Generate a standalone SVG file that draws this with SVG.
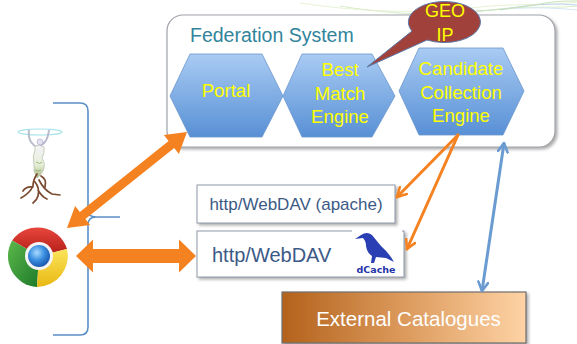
<svg xmlns="http://www.w3.org/2000/svg" width="577" height="344" viewBox="0 0 577 344">
  <defs>
    <linearGradient id="hexFill" x1="0" y1="0" x2="0" y2="1">
      <stop offset="0" stop-color="#a9cbf3"/>
      <stop offset="1" stop-color="#5890d5"/>
    </linearGradient>
    <linearGradient id="extFill" x1="0" y1="0" x2="1" y2="0">
      <stop offset="0" stop-color="#b3621c"/>
      <stop offset="0.5" stop-color="#dc9a5c"/>
      <stop offset="1" stop-color="#fed3a5"/>
    </linearGradient>
    <radialGradient id="blueEye" cx="0.4" cy="0.35" r="0.7">
      <stop offset="0" stop-color="#a8dcff"/>
      <stop offset="0.5" stop-color="#3a8ee0"/>
      <stop offset="1" stop-color="#1552a8"/>
    </radialGradient>
    <linearGradient id="redPart" x1="0" y1="0" x2="0" y2="1">
      <stop offset="0" stop-color="#e8463c"/>
      <stop offset="1" stop-color="#b01c16"/>
    </linearGradient>
    <linearGradient id="greenPart" x1="0" y1="0" x2="1" y2="1">
      <stop offset="0" stop-color="#5cb84a"/>
      <stop offset="1" stop-color="#1d7a2a"/>
    </linearGradient>
    <linearGradient id="yellowPart" x1="0" y1="0" x2="0" y2="1">
      <stop offset="0" stop-color="#fbe45a"/>
      <stop offset="1" stop-color="#e9b812"/>
    </linearGradient>
    <linearGradient id="skin" x1="0" y1="0" x2="0" y2="1">
      <stop offset="0" stop-color="#f4f2f8"/>
      <stop offset="0.6" stop-color="#e6efd8"/>
      <stop offset="1" stop-color="#a8b884"/>
    </linearGradient>
    <filter id="shadow" x="-10%" y="-10%" width="130%" height="140%">
      <feDropShadow dx="2" dy="2" stdDeviation="1.4" flood-color="#777" flood-opacity="0.6"/>
    </filter>
    <marker id="vOrange" viewBox="0 0 12 12" refX="10" refY="6" markerWidth="12" markerHeight="12" markerUnits="userSpaceOnUse" orient="auto">
      <polyline points="1,1 10,6 1,11" fill="none" stroke="#f58220" stroke-width="2.6" stroke-linecap="round" stroke-linejoin="round"/>
    </marker>
    <marker id="vBlue" viewBox="0 0 12 12" refX="10" refY="6" markerWidth="12" markerHeight="12" markerUnits="userSpaceOnUse" orient="auto-start-reverse">
      <polyline points="1,1 10,6 1,11" fill="none" stroke="#6a9bd1" stroke-width="2.6" stroke-linecap="round" stroke-linejoin="round"/>
    </marker>
    <style>
      .hex { fill: url(#hexFill); stroke: #6a95cc; stroke-width: 0.8; }
      .hexText { font-family: "Liberation Sans", Arial, sans-serif; font-size: 18.6px; fill: #ffff00; text-anchor: middle; }
      .box { fill: #ffffff; stroke: #8f9aa8; stroke-width: 1; }
      .boxText { font-family: "Liberation Sans", Arial, sans-serif; fill: #3b5a86; }
      .thick { fill: #f58220; }
      .thin { fill: none; stroke: #f58220; stroke-width: 3; stroke-linecap: round; }
      .swirl { fill: none; stroke-width: 1; }
    </style>
  </defs>

  <!-- faint decorative swirl along the top edge -->
  <g id="swirl" opacity="0.6">
    <path class="swirl" stroke="#d6e9b8" d="M300,3 C360,12 420,14 470,8 C510,3 545,6 577,2"/>
    <path class="swirl" stroke="#c2e0a6" d="M340,6 C400,16 450,16 490,10 C525,5 550,9 577,6"/>
    <path class="swirl" stroke="#b9d6ec" d="M470,12 C510,8 540,6 577,10"/>
    <path class="swirl" stroke="#8fb7e0" d="M500,10 C530,4 555,3 577,5"/>
    <path class="swirl" stroke="#a6cf86" d="M430,10 C470,13 505,10 540,4 C555,1 566,1 577,1"/>
  </g>

  <!-- Federation System container -->
  <g id="federation">
    <rect x="167" y="15" width="388" height="132" rx="16" ry="16" fill="#ffffff" stroke="#a0a4aa" stroke-width="1.2" filter="url(#shadow)"/>
    <text x="190" y="42" font-family="Liberation Sans, Arial, sans-serif" font-size="19.5" fill="#31849b">Federation System</text>
  </g>

  <g id="portal">
    <polygon class="hex" points="170,96 190,54 262,54 283,96 262,137 190,137"/>
    <text class="hexText" x="226" y="97" font-size="20">Portal</text>
  </g>

  <g id="best-match">
    <polygon class="hex" points="283,96 302,54 372,54 395,96 372,137 302,137"/>
    <text class="hexText" x="340" y="76">Best</text>
    <text class="hexText" x="340" y="100">Match</text>
    <text class="hexText" x="340" y="123">Engine</text>
  </g>

  <g id="candidate">
    <polygon class="hex" points="399,91 419,48 503,48 524,91 503,135 419,135"/>
    <text class="hexText" x="461" y="75">Candidate</text>
    <text class="hexText" x="461" y="99">Collection</text>
    <text class="hexText" x="461" y="122">Engine</text>
  </g>

  <!-- GEO IP callout -->
  <g id="geoip">
    <path d="M367,67 L412,31 A36,20.5 0 1 1 427,40 Z" fill="#a0413b" stroke="#5b78a8" stroke-width="1"/>
    <text x="445" y="17" font-family="Liberation Sans, Arial, sans-serif" font-size="18" fill="#ffff00" text-anchor="middle">GEO</text>
    <text x="445" y="41" font-family="Liberation Sans, Arial, sans-serif" font-size="18" fill="#ffff00" text-anchor="middle">IP</text>
  </g>

  <!-- client bracket -->
  <g id="bracket">
    <path d="M53,103 L80,103 Q88,103 88,111 L88,210 Q88,217 96,217 L120,217 M96,217 Q88,217 88,225 L88,327 Q88,335 80,335 L53,335" fill="none" stroke="#5b8fc7" stroke-width="1.6"/>
  </g>

  <!-- dryad figure -->
  <g id="dryad">
    <ellipse cx="40" cy="132" rx="22" ry="3" fill="none" stroke="#a6e3ea" stroke-width="1.2"/>
    <!-- raised arms -->
    <path d="M29,130 Q28,137 31,142 Q34,146 37,147" fill="none" stroke="#b8bccc" stroke-width="2"/>
    <path d="M49,130 Q48,138 45,142 Q42,145 40,146" fill="none" stroke="#b8b8d0" stroke-width="2"/>
    <!-- head and body -->
    <circle cx="40" cy="142" r="3" fill="#e4e2f0" stroke="#a8a8c4" stroke-width="0.6"/>
    <path d="M35,146 Q40,144 44,147 Q45,153 42,158 Q46,164 43,171 Q40,176 37,178 Q33,172 34,164 Q32,156 35,150 Z" fill="url(#skin)" stroke="#b3bca6" stroke-width="0.7"/>
    <path d="M36,162 Q40,165 42,162 M35,170 Q38,172 41,170" fill="none" stroke="#9ab070" stroke-width="0.9"/>
    <!-- roots -->
    <path d="M37,174 Q33,180 33,186 Q30,193 21,198 M35,182 Q40,188 38,196 Q37,200 33,203 M39,180 Q44,190 52,194 L60,195 M33,187 Q26,186 23,191 M41,176 Q47,179 45,187 M38,190 Q42,197 47,199" fill="none" stroke="#7b4a2e" stroke-width="1.7" stroke-linecap="round"/>
  </g>

  <!-- browser logo -->
  <g id="browser">
    <path d="M39,256 L12.15,240.5 A31,31 0 0 1 67,249 Z" fill="url(#redPart)"/>
    <path d="M39,256 L37,287 A31,31 0 0 1 12.15,240.5 Z" fill="url(#greenPart)"/>
    <path d="M39,256 L67,249 A31,31 0 0 1 37,287 Z" fill="url(#yellowPart)"/>
    <circle cx="39" cy="256" r="14" fill="#f4f4f4"/>
    <circle cx="39" cy="256" r="11" fill="url(#blueEye)"/>
  </g>

  <g id="webdav-apache">
    <rect class="box" x="197" y="185" width="198" height="38" filter="url(#shadow)"/>
    <text class="boxText" x="296" y="210" font-size="17" text-anchor="middle">http/WebDAV (apache)</text>
  </g>

  <g id="webdav-dcache">
    <rect class="box" x="197" y="231" width="207" height="46" filter="url(#shadow)"/>
    <rect x="352" y="229" width="50" height="4" fill="#ffffff"/>
    <path d="M355,239 L361,235 Q367,231 372,235 Q376,240 381,246 Q389,253 394,262 L386,258 L376,257 L374,263 L371,263 L372,256 Q367,253 366,246 Q366,241 363,238 Z" fill="#2b3fb4"/>
    <text x="376" y="273" font-family="DejaVu Sans, sans-serif" font-weight="bold" font-size="9.5" fill="#2233aa" text-anchor="middle">dCache</text>
    <text class="boxText" x="212" y="262" font-size="20">http/WebDAV</text>
  </g>

  <g id="external-catalogues">
    <rect x="282" y="292" width="244" height="51" fill="url(#extFill)" stroke="#6f6f6f" stroke-width="1.2" filter="url(#shadow)"/>
    <text x="408.5" y="326" font-family="Liberation Sans, Arial, sans-serif" font-size="20.5" fill="#ffffff" text-anchor="middle">External Catalogues</text>
  </g>

  <!-- connectors -->
  <g id="connectors">
    <polygon class="thick" points="67,228 90.1,224.9 85.4,219 174.2,148 178.9,153.9 187,132 163.9,135.1 168.6,141 79.8,212 75.1,206.1"/>
    <polygon class="thick" points="76,256 93,239.5 93,249 179,249 179,239.5 196,256 179,272.5 179,263 93,263 93,272.5"/>
    <line class="thin" x1="458" y1="135" x2="397" y2="197" marker-end="url(#vOrange)"/>
    <line class="thin" x1="458" y1="135" x2="407" y2="249" marker-end="url(#vOrange)"/>
    <line x1="504" y1="143" x2="482" y2="291" stroke="#6a9bd1" stroke-width="3" marker-start="url(#vBlue)" marker-end="url(#vBlue)"/>
  </g>
</svg>
